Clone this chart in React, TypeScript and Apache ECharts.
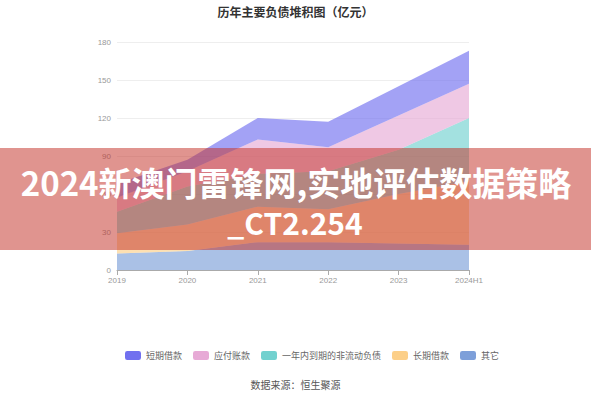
import * as echarts from 'echarts';
import { useEffect, useRef } from 'react';

const years = ['2019', '2020', '2021', '2022', '2023', '2024H1'];
// 亿元, stacked bottom to top: 其它, 长期借款, 一年内到期的非流动负债, 应付账款, 短期借款
const other = [13, 15, 22, 22, 21, 20];
const longLoan = [16, 21, 28, 26, 39, 50];
const dueWithinYear = [17, 30, 26, 30, 35, 50];
const payables = [11, 12, 27, 19, 27, 27];
const shortLoan = [11, 9, 17, 20, 23, 26];
const legendOrder = ['短期借款', '应付账款', '一年内到期的非流动负债', '长期借款', '其它'];

const areaSeries = (name: string, data: number[], color: string) => ({
  name,
  type: 'line',
  stack: 'total',
  data,
  symbol: 'none',
  smooth: false,
  color,
  lineStyle: { width: 0 },
  areaStyle: { color, opacity: 0.65 },
});

export default function App() {
  const chartRef = useRef<HTMLDivElement>(null);

  useEffect(() => {
    if (!chartRef.current) return;
    const chart = echarts.init(chartRef.current, undefined, { renderer: 'svg' });

    chart.setOption({
      animation: false,
      title: {
        text: '历年主要负债堆积图（亿元）',
        left: 'center',
        top: 0,
        textStyle: { fontSize: 12, fontWeight: 'bold', color: '#333', fontFamily: 'Noto Sans CJK SC' },
      },
      grid: { left: 117, right: 122, top: 42, bottom: 130 },
      legend: {
        data: legendOrder,
        top: 346,
        left: 120,
        icon: 'roundRect',
        itemWidth: 16,
        itemHeight: 9,
        itemGap: 11,
        textStyle: { fontSize: 9, color: '#666', fontFamily: 'Noto Sans CJK SC' },
      },
      xAxis: {
        type: 'category',
        data: years,
        boundaryGap: false,
        axisLine: { lineStyle: { color: '#aaa' } },
        axisTick: { lineStyle: { color: '#aaa' } },
        axisLabel: { fontSize: 8, color: '#999', margin: 6 },
      },
      yAxis: {
        type: 'value',
        min: 0,
        max: 180,
        interval: 30,
        axisLine: { show: false },
        axisTick: { show: false },
        axisLabel: { fontSize: 8, color: '#999', margin: 6 },
        splitLine: { lineStyle: { color: '#eee' } },
      },
      series: [
        areaSeries('其它', other, '#7d9fd9'),
        areaSeries('长期借款', longLoan, '#fccf88'),
        areaSeries('一年内到期的非流动负债', dueWithinYear, '#72d1cf'),
        areaSeries('应付账款', payables, '#e7aad6'),
        areaSeries('短期借款', shortLoan, '#7170ef'),
      ],
      graphic: [
        {
          type: 'text',
          left: 'center',
          top: 379,
          style: { text: '数据来源：恒生聚源', fontSize: 10, fill: '#555', fontFamily: 'Noto Sans CJK SC' },
        },
        {
          type: 'rect',
          z: 100,
          shape: { x: 0, y: 148, width: 591, height: 102 },
          style: { fill: 'rgba(195,50,40,0.52)' },
        },
        {
          type: 'text',
          z: 101,
          x: 296,
          y: 182,
          style: {
            text: '2024新澳门雷锋网,实地评估数据策略',
            fontSize: 33,
            lineHeight: 32,
            fontWeight: 'bold',
            fill: '#fff',
            align: 'center',
            verticalAlign: 'middle',
            fontFamily: 'Noto Sans CJK SC',
          },
        },
        {
          type: 'text',
          z: 101,
          x: 295,
          y: 222,
          style: {
            text: '_CT2.254',
            fontSize: 30,
            lineHeight: 30,
            fontWeight: 'bold',
            fill: '#fff',
            align: 'center',
            verticalAlign: 'middle',
            fontFamily: 'Noto Sans CJK SC',
          },
        },
      ],
    });

    return () => chart.dispose();
  }, []);

  return (
    <div
      ref={chartRef}
      style={{ position: 'absolute', left: 0, top: 0, width: 591, height: 400, background: '#fff' }}
    />
  );
}
